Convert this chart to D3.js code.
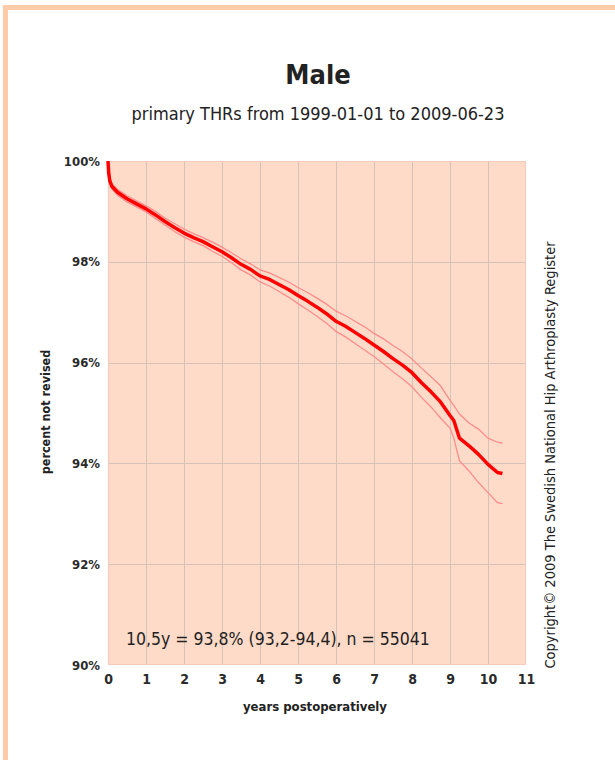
<!DOCTYPE html>
<html>
<head>
<meta charset="utf-8">
<style>
body {
    margin: 0;
    background: #fff;
}
text {
    font-family: "DejaVu Sans Condensed", "Liberation Sans Narrow", sans-serif;
    font-stretch: condensed;
    fill: #222;
}
.grid line {
    stroke: #d6c2b6;
    stroke-width: 1;
    shape-rendering: crispEdges;
}
.tick text {
    fill: #2a2a2a;
}
</style>
</head>
<body>
<script src="https://d3js.org/d3.v7.min.js"></script>
<script>
// Kaplan-Meier survival
var years = [0, 0.02, 0.05, 0.1, 0.25, 0.5, 0.75, 1, 1.25, 1.5, 1.75, 2, 2.25, 2.5, 2.75, 3,
    3.25, 3.5, 3.75, 4, 4.25, 4.5, 4.75, 5, 5.25, 5.5, 5.75, 6, 6.25, 6.5, 6.75, 7,
    7.25, 7.5, 7.75, 8, 8.25, 8.5, 8.75, 9, 9.1, 9.25, 9.5, 9.75, 10, 10.25, 10.38];
var survival = [100, 99.75, 99.6, 99.5, 99.38, 99.25, 99.15, 99.05, 98.93, 98.8, 98.68, 98.57, 98.48, 98.4, 98.3, 98.2,
    98.08, 97.95, 97.85, 97.72, 97.65, 97.55, 97.45, 97.33, 97.22, 97.1, 96.97, 96.82, 96.72, 96.6, 96.48, 96.35,
    96.22, 96.08, 95.95, 95.8, 95.6, 95.42, 95.22, 94.95, 94.85, 94.5, 94.35, 94.18, 93.98, 93.82, 93.8];
var upper = [100, 99.8, 99.65, 99.55, 99.44, 99.31, 99.21, 99.11, 99.0, 98.87, 98.76, 98.65, 98.56, 98.48, 98.39, 98.29,
    98.18, 98.06, 97.96, 97.84, 97.78, 97.69, 97.6, 97.49, 97.39, 97.28, 97.16, 97.02, 96.93, 96.82, 96.71, 96.58,
    96.47, 96.34, 96.22, 96.07, 95.89, 95.72, 95.54, 95.25, 95.15, 94.98, 94.8, 94.68, 94.5, 94.42, 94.4];
var lower = [100, 99.7, 99.55, 99.45, 99.32, 99.19, 99.09, 98.99, 98.86, 98.73, 98.6, 98.49, 98.4, 98.32, 98.21, 98.11,
    97.98, 97.84, 97.74, 97.6, 97.52, 97.41, 97.3, 97.17, 97.05, 96.92, 96.78, 96.62, 96.51, 96.38, 96.25, 96.12,
    95.97, 95.82, 95.68, 95.52, 95.31, 95.12, 94.9, 94.7, 94.5, 94.05, 93.85, 93.62, 93.42, 93.22, 93.2];

var xTicks = d3.range(0, 12);
var yTicks = [90, 92, 94, 96, 98, 100];

var W = 615, H = 760;
var plotL = 108, plotR = 526, plotT = 161, plotB = 665;

var svg = d3.select("body").append("svg")
    .attr("width", W)
    .attr("height", H);

// outer peach frame
svg.append("rect")
    .attr("x", 5.5).attr("y", 7.5)
    .attr("width", 700).attr("height", 800)
    .attr("fill", "none")
    .attr("stroke", "#fdcba7")
    .attr("stroke-width", 5);

var x = d3.scaleLinear().domain([0, 11]).range([plotL, plotR]);
var y = d3.scaleLinear().domain([90, 100]).range([plotB, plotT]);

svg.append("rect")
    .attr("x", x(0)).attr("y", y(100))
    .attr("width", x(11) - x(0)).attr("height", y(90) - y(100))
    .attr("fill", "#fedbc8");

var grid = svg.append("g").attr("class", "grid");
grid.selectAll(".v").data(xTicks.slice(1, 11)).enter().append("line")
    .attr("x1", d => Math.round(x(d)) + 0.5).attr("x2", d => Math.round(x(d)) + 0.5)
    .attr("y1", y(100)).attr("y2", y(90));
grid.selectAll(".h").data(yTicks.slice(1, 5)).enter().append("line")
    .attr("x1", x(0)).attr("x2", x(11))
    .attr("y1", d => Math.round(y(d)) + 0.5).attr("y2", d => Math.round(y(d)) + 0.5);

// frame of plot area
svg.append("rect")
    .attr("x", x(0) + 0.5).attr("y", y(100) + 0.5)
    .attr("width", x(11) - x(0) - 1).attr("height", y(90) - y(100) - 1)
    .attr("fill", "none")
    .attr("stroke", "#f4cbb9");

var pts = years.map((t, i) => ({t: t, s: survival[i], u: upper[i], l: lower[i]}));

var line = k => d3.line()
    .x(d => x(d.t))
    .y(d => y(d[k]));

svg.append("path").datum(pts)
    .attr("d", line("u"))
    .attr("fill", "none")
    .attr("stroke", "#ff8c8c")
    .attr("stroke-width", 1.3);
svg.append("path").datum(pts)
    .attr("d", line("l"))
    .attr("fill", "none")
    .attr("stroke", "#ff8c8c")
    .attr("stroke-width", 1.3);
svg.append("path").datum(pts)
    .attr("d", line("s"))
    .attr("fill", "none")
    .attr("stroke", "#ff0000")
    .attr("stroke-width", 3.5)
    .attr("stroke-linejoin", "round");

// axes
var xAxis = d3.axisBottom(x).tickValues(xTicks).tickSize(0).tickPadding(9);
var yAxis = d3.axisLeft(y).tickValues(yTicks).tickSize(0).tickPadding(8)
    .tickFormat(d => d + "%");

svg.append("g")
    .attr("transform", "translate(0," + plotB + ")")
    .style("font-size", "14px")
    .style("font-weight", "bold")
    .call(xAxis)
    .call(g => g.select(".domain").remove());
svg.append("g")
    .attr("transform", "translate(" + plotL + ",0)")
    .style("font-size", "13px")
    .style("font-weight", "bold")
    .call(yAxis)
    .call(g => g.select(".domain").remove());

// titles
svg.append("text")
    .attr("x", 318).attr("y", 84)
    .attr("text-anchor", "middle")
    .style("font-size", "27px")
    .style("font-weight", "bold")
    .text("Male");
svg.append("text")
    .attr("x", 318).attr("y", 120)
    .attr("text-anchor", "middle")
    .style("font-size", "18px")
    .text("primary THRs from 1999-01-01 to 2009-06-23");

svg.append("text")
    .attr("x", 315).attr("y", 711)
    .attr("text-anchor", "middle")
    .style("font-size", "13px")
    .style("font-weight", "bold")
    .text("years postoperatively");

svg.append("text")
    .attr("transform", "translate(50,412) rotate(-90)")
    .attr("text-anchor", "middle")
    .style("font-size", "12.5px")
    .style("font-weight", "bold")
    .text("percent not revised");

svg.append("text")
    .attr("transform", "translate(555,455) rotate(-90)")
    .attr("text-anchor", "middle")
    .style("font-size", "14.5px")
    .text("Copyright\u00a9 2009 The Swedish National Hip Arthroplasty Register");

svg.append("text")
    .attr("x", 126).attr("y", 645)
    .style("font-size", "17.5px")
    .text("10,5y = 93,8% (93,2-94,4), n = 55041");
</script>
</body>
</html>
